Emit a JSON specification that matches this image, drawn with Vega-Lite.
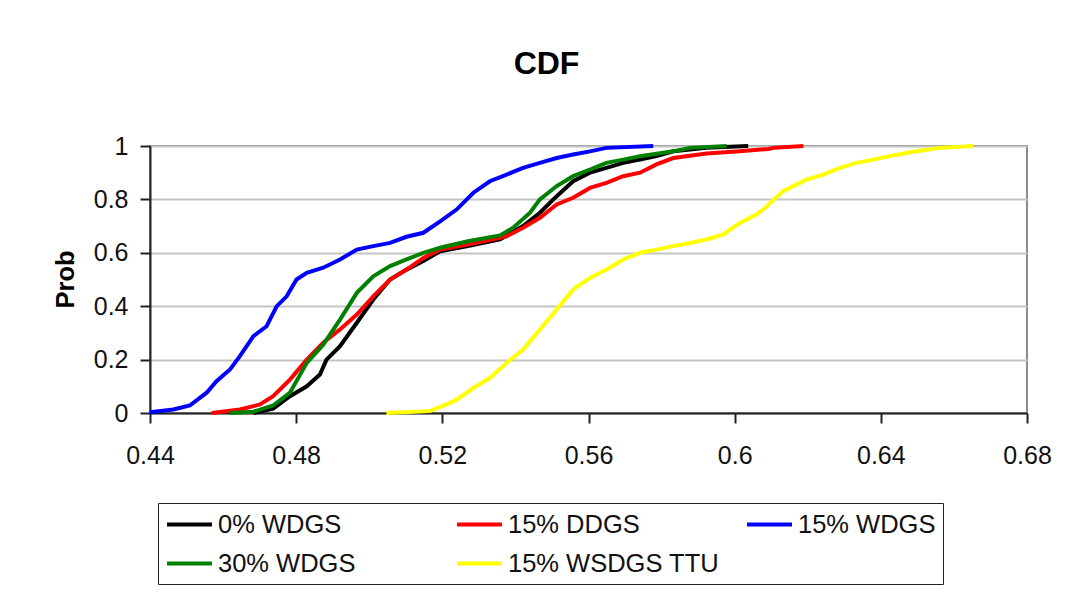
{
  "$schema": "https://vega.github.io/schema/vega-lite/v6.json",
  "width": 877,
  "height": 267,
  "autosize": {"type": "none"},
  "padding": {"left": 150, "top": 146, "right": 43, "bottom": 180},
  "background": "white",
  "title": {
    "text": "CDF",
    "font": "Liberation Sans",
    "fontSize": 32,
    "fontWeight": "bold",
    "color": "black",
    "anchor": "middle",
    "frame": "group",
    "dx": -42,
    "baseline": "alphabetic",
    "offset": 28
  },
  "data": {
    "values": [
      {"series": "0% WDGS", "x": 0.4683, "p": 0},
      {"series": "0% WDGS", "x": 0.4737, "p": 0.016},
      {"series": "0% WDGS", "x": 0.4783, "p": 0.063},
      {"series": "0% WDGS", "x": 0.4829, "p": 0.1},
      {"series": "0% WDGS", "x": 0.4865, "p": 0.144},
      {"series": "0% WDGS", "x": 0.4883, "p": 0.2},
      {"series": "0% WDGS", "x": 0.492, "p": 0.25},
      {"series": "0% WDGS", "x": 0.4966, "p": 0.338},
      {"series": "0% WDGS", "x": 0.5011, "p": 0.425},
      {"series": "0% WDGS", "x": 0.5057, "p": 0.5},
      {"series": "0% WDGS", "x": 0.5102, "p": 0.537},
      {"series": "0% WDGS", "x": 0.5148, "p": 0.569},
      {"series": "0% WDGS", "x": 0.5194, "p": 0.606},
      {"series": "0% WDGS", "x": 0.527, "p": 0.625},
      {"series": "0% WDGS", "x": 0.5358, "p": 0.65},
      {"series": "0% WDGS", "x": 0.5421, "p": 0.7},
      {"series": "0% WDGS", "x": 0.5467, "p": 0.75},
      {"series": "0% WDGS", "x": 0.5513, "p": 0.812},
      {"series": "0% WDGS", "x": 0.5558, "p": 0.868},
      {"series": "0% WDGS", "x": 0.5604, "p": 0.9},
      {"series": "0% WDGS", "x": 0.5649, "p": 0.918},
      {"series": "0% WDGS", "x": 0.5695, "p": 0.937},
      {"series": "0% WDGS", "x": 0.5741, "p": 0.949},
      {"series": "0% WDGS", "x": 0.5786, "p": 0.962},
      {"series": "0% WDGS", "x": 0.5832, "p": 0.98},
      {"series": "0% WDGS", "x": 0.5923, "p": 0.993},
      {"series": "0% WDGS", "x": 0.6037, "p": 1.0},

      {"series": "15% DDGS", "x": 0.4569, "p": 0},
      {"series": "15% DDGS", "x": 0.4646, "p": 0.013},
      {"series": "15% DDGS", "x": 0.4701, "p": 0.032},
      {"series": "15% DDGS", "x": 0.4737, "p": 0.063},
      {"series": "15% DDGS", "x": 0.4783, "p": 0.125},
      {"series": "15% DDGS", "x": 0.4829, "p": 0.2},
      {"series": "15% DDGS", "x": 0.4874, "p": 0.263},
      {"series": "15% DDGS", "x": 0.492, "p": 0.313},
      {"series": "15% DDGS", "x": 0.4966, "p": 0.369},
      {"series": "15% DDGS", "x": 0.5011, "p": 0.437},
      {"series": "15% DDGS", "x": 0.5057, "p": 0.5},
      {"series": "15% DDGS", "x": 0.5102, "p": 0.537},
      {"series": "15% DDGS", "x": 0.5148, "p": 0.581},
      {"series": "15% DDGS", "x": 0.5194, "p": 0.612},
      {"series": "15% DDGS", "x": 0.527, "p": 0.631},
      {"series": "15% DDGS", "x": 0.5376, "p": 0.662},
      {"series": "15% DDGS", "x": 0.5421, "p": 0.694},
      {"series": "15% DDGS", "x": 0.5467, "p": 0.731},
      {"series": "15% DDGS", "x": 0.5513, "p": 0.781},
      {"series": "15% DDGS", "x": 0.5558, "p": 0.806},
      {"series": "15% DDGS", "x": 0.5604, "p": 0.843},
      {"series": "15% DDGS", "x": 0.5649, "p": 0.862},
      {"series": "15% DDGS", "x": 0.5695, "p": 0.887},
      {"series": "15% DDGS", "x": 0.5741, "p": 0.9},
      {"series": "15% DDGS", "x": 0.5786, "p": 0.931},
      {"series": "15% DDGS", "x": 0.5832, "p": 0.955},
      {"series": "15% DDGS", "x": 0.5923, "p": 0.972},
      {"series": "15% DDGS", "x": 0.6014, "p": 0.98},
      {"series": "15% DDGS", "x": 0.6092, "p": 0.989},
      {"series": "15% DDGS", "x": 0.6106, "p": 0.993},
      {"series": "15% DDGS", "x": 0.6188, "p": 1.0},

      {"series": "15% WDGS", "x": 0.44, "p": 0.003},
      {"series": "15% WDGS", "x": 0.4464, "p": 0.013},
      {"series": "15% WDGS", "x": 0.4509, "p": 0.028},
      {"series": "15% WDGS", "x": 0.4555, "p": 0.076},
      {"series": "15% WDGS", "x": 0.4582, "p": 0.119},
      {"series": "15% WDGS", "x": 0.4619, "p": 0.163},
      {"series": "15% WDGS", "x": 0.4646, "p": 0.213},
      {"series": "15% WDGS", "x": 0.4683, "p": 0.288},
      {"series": "15% WDGS", "x": 0.4719, "p": 0.325},
      {"series": "15% WDGS", "x": 0.4747, "p": 0.4},
      {"series": "15% WDGS", "x": 0.4774, "p": 0.437},
      {"series": "15% WDGS", "x": 0.4801, "p": 0.5},
      {"series": "15% WDGS", "x": 0.4829, "p": 0.525},
      {"series": "15% WDGS", "x": 0.4874, "p": 0.544},
      {"series": "15% WDGS", "x": 0.492, "p": 0.575},
      {"series": "15% WDGS", "x": 0.4966, "p": 0.612},
      {"series": "15% WDGS", "x": 0.5011, "p": 0.625},
      {"series": "15% WDGS", "x": 0.5057, "p": 0.637},
      {"series": "15% WDGS", "x": 0.5102, "p": 0.66},
      {"series": "15% WDGS", "x": 0.5148, "p": 0.675},
      {"series": "15% WDGS", "x": 0.5194, "p": 0.718},
      {"series": "15% WDGS", "x": 0.5239, "p": 0.762},
      {"series": "15% WDGS", "x": 0.5285, "p": 0.825},
      {"series": "15% WDGS", "x": 0.533, "p": 0.868},
      {"series": "15% WDGS", "x": 0.5376, "p": 0.893},
      {"series": "15% WDGS", "x": 0.5421, "p": 0.918},
      {"series": "15% WDGS", "x": 0.5467, "p": 0.937},
      {"series": "15% WDGS", "x": 0.5513, "p": 0.955},
      {"series": "15% WDGS", "x": 0.5558, "p": 0.968},
      {"series": "15% WDGS", "x": 0.5604, "p": 0.98},
      {"series": "15% WDGS", "x": 0.5649, "p": 0.993},
      {"series": "15% WDGS", "x": 0.5777, "p": 1.0},

      {"series": "30% WDGS", "x": 0.4619, "p": 0},
      {"series": "30% WDGS", "x": 0.4683, "p": 0.005},
      {"series": "30% WDGS", "x": 0.4737, "p": 0.028},
      {"series": "30% WDGS", "x": 0.4783, "p": 0.076},
      {"series": "30% WDGS", "x": 0.4829, "p": 0.188},
      {"series": "30% WDGS", "x": 0.4874, "p": 0.256},
      {"series": "30% WDGS", "x": 0.492, "p": 0.35},
      {"series": "30% WDGS", "x": 0.4966, "p": 0.45},
      {"series": "30% WDGS", "x": 0.5011, "p": 0.512},
      {"series": "30% WDGS", "x": 0.5057, "p": 0.55},
      {"series": "30% WDGS", "x": 0.5102, "p": 0.575},
      {"series": "30% WDGS", "x": 0.5148, "p": 0.6},
      {"series": "30% WDGS", "x": 0.5194, "p": 0.619},
      {"series": "30% WDGS", "x": 0.527, "p": 0.643},
      {"series": "30% WDGS", "x": 0.5358, "p": 0.665},
      {"series": "30% WDGS", "x": 0.5394, "p": 0.694},
      {"series": "30% WDGS", "x": 0.544, "p": 0.75},
      {"series": "30% WDGS", "x": 0.5467, "p": 0.8},
      {"series": "30% WDGS", "x": 0.5513, "p": 0.85},
      {"series": "30% WDGS", "x": 0.5558, "p": 0.887},
      {"series": "30% WDGS", "x": 0.5604, "p": 0.912},
      {"series": "30% WDGS", "x": 0.5649, "p": 0.937},
      {"series": "30% WDGS", "x": 0.5695, "p": 0.949},
      {"series": "30% WDGS", "x": 0.5741, "p": 0.962},
      {"series": "30% WDGS", "x": 0.5832, "p": 0.98},
      {"series": "30% WDGS", "x": 0.5878, "p": 0.993},
      {"series": "30% WDGS", "x": 0.5978, "p": 1.0},

      {"series": "15% WSDGS TTU", "x": 0.5047, "p": 0},
      {"series": "15% WSDGS TTU", "x": 0.5166, "p": 0.007},
      {"series": "15% WSDGS TTU", "x": 0.5221, "p": 0.038},
      {"series": "15% WSDGS TTU", "x": 0.5239, "p": 0.05},
      {"series": "15% WSDGS TTU", "x": 0.5285, "p": 0.094},
      {"series": "15% WSDGS TTU", "x": 0.533, "p": 0.131},
      {"series": "15% WSDGS TTU", "x": 0.5376, "p": 0.188},
      {"series": "15% WSDGS TTU", "x": 0.5421, "p": 0.238},
      {"series": "15% WSDGS TTU", "x": 0.5467, "p": 0.313},
      {"series": "15% WSDGS TTU", "x": 0.5513, "p": 0.388},
      {"series": "15% WSDGS TTU", "x": 0.5558, "p": 0.463},
      {"series": "15% WSDGS TTU", "x": 0.5604, "p": 0.506},
      {"series": "15% WSDGS TTU", "x": 0.5649, "p": 0.537},
      {"series": "15% WSDGS TTU", "x": 0.5695, "p": 0.575},
      {"series": "15% WSDGS TTU", "x": 0.5741, "p": 0.6},
      {"series": "15% WSDGS TTU", "x": 0.5786, "p": 0.612},
      {"series": "15% WSDGS TTU", "x": 0.5832, "p": 0.625},
      {"series": "15% WSDGS TTU", "x": 0.5878, "p": 0.637},
      {"series": "15% WSDGS TTU", "x": 0.5923, "p": 0.65},
      {"series": "15% WSDGS TTU", "x": 0.5969, "p": 0.669},
      {"series": "15% WSDGS TTU", "x": 0.6014, "p": 0.712},
      {"series": "15% WSDGS TTU", "x": 0.606, "p": 0.744},
      {"series": "15% WSDGS TTU", "x": 0.6078, "p": 0.762},
      {"series": "15% WSDGS TTU", "x": 0.6133, "p": 0.831},
      {"series": "15% WSDGS TTU", "x": 0.6196, "p": 0.874},
      {"series": "15% WSDGS TTU", "x": 0.6242, "p": 0.893},
      {"series": "15% WSDGS TTU", "x": 0.6288, "p": 0.918},
      {"series": "15% WSDGS TTU", "x": 0.6333, "p": 0.937},
      {"series": "15% WSDGS TTU", "x": 0.6379, "p": 0.949},
      {"series": "15% WSDGS TTU", "x": 0.6425, "p": 0.962},
      {"series": "15% WSDGS TTU", "x": 0.647, "p": 0.974},
      {"series": "15% WSDGS TTU", "x": 0.6516, "p": 0.984},
      {"series": "15% WSDGS TTU", "x": 0.6562, "p": 0.993},
      {"series": "15% WSDGS TTU", "x": 0.6653, "p": 1.0}
    ]
  },
  "mark": {"type": "line", "strokeWidth": 4, "interpolate": "linear"},
  "encoding": {
    "x": {
      "field": "x",
      "type": "quantitative",
      "scale": {"domain": [0.44, 0.68], "nice": false, "zero": false},
      "axis": {
        "title": null,
        "values": [0.44, 0.48, 0.52, 0.56, 0.6, 0.64, 0.68],
        "format": ".2~f",
        "grid": false,
        "tickSize": 10,
        "tickColor": "#222222",
        "tickWidth": 2,
        "domainColor": "#222222",
        "domainWidth": 2,
        "labelFont": "Liberation Sans",
        "labelFontSize": 25,
        "labelColor": "#111111",
        "labelPadding": 20,
        "labelFlush": false
      }
    },
    "y": {
      "field": "p",
      "type": "quantitative",
      "scale": {"domain": [0, 1], "nice": false},
      "axis": {
        "title": "Prob",
        "titleFont": "Liberation Sans",
        "titleFontSize": 25.5,
        "titleFontWeight": "bold",
        "titleColor": "black",
        "titleAngle": -90,
        "titleAlign": "center",
        "titleBaseline": "alphabetic",
        "titleX": -77,
        "titleY": 133,
        "values": [0, 0.2, 0.4, 0.6, 0.8, 1],
        "format": ".1~f",
        "grid": true,
        "gridColor": "#c4c4c4",
        "gridWidth": 2,
        "tickSize": 10,
        "tickColor": "#222222",
        "tickWidth": 2,
        "domainColor": "#222222",
        "domainWidth": 2,
        "labelFont": "Liberation Sans",
        "labelFontSize": 25,
        "labelColor": "#111111",
        "labelPadding": 12,
        "labelFlush": false
      }
    },
    "color": {
      "field": "series",
      "type": "nominal",
      "scale": {
        "domain": ["0% WDGS", "15% DDGS", "15% WDGS", "30% WDGS", "15% WSDGS TTU"],
        "range": ["#000000", "#ff0000", "#0000ff", "#008000", "#ffff00"]
      },
      "legend": {
        "title": null,
        "orient": "none",
        "legendX": 8,
        "legendY": 357,
        "direction": "horizontal",
        "columns": 3,
        "gridAlign": "all",
        "columnPadding": 19,
        "rowPadding": 11,
        "padding": 7,
        "symbolType": "M-1.8,0H1.8",
        "symbolSize": 625,
        "symbolOffset": 10,
        "symbolStrokeWidth": 4,
        "labelFont": "Liberation Sans",
        "labelFontSize": 25.5,
        "labelColor": "#111111",
        "labelOffset": 14,
        "labelLimit": 400,
        "strokeColor": "#222222",
        "fillColor": "white"
      }
    }
  },
  "config": {
    "view": {"stroke": "#8c8c8c", "strokeWidth": 2}
  }
}
